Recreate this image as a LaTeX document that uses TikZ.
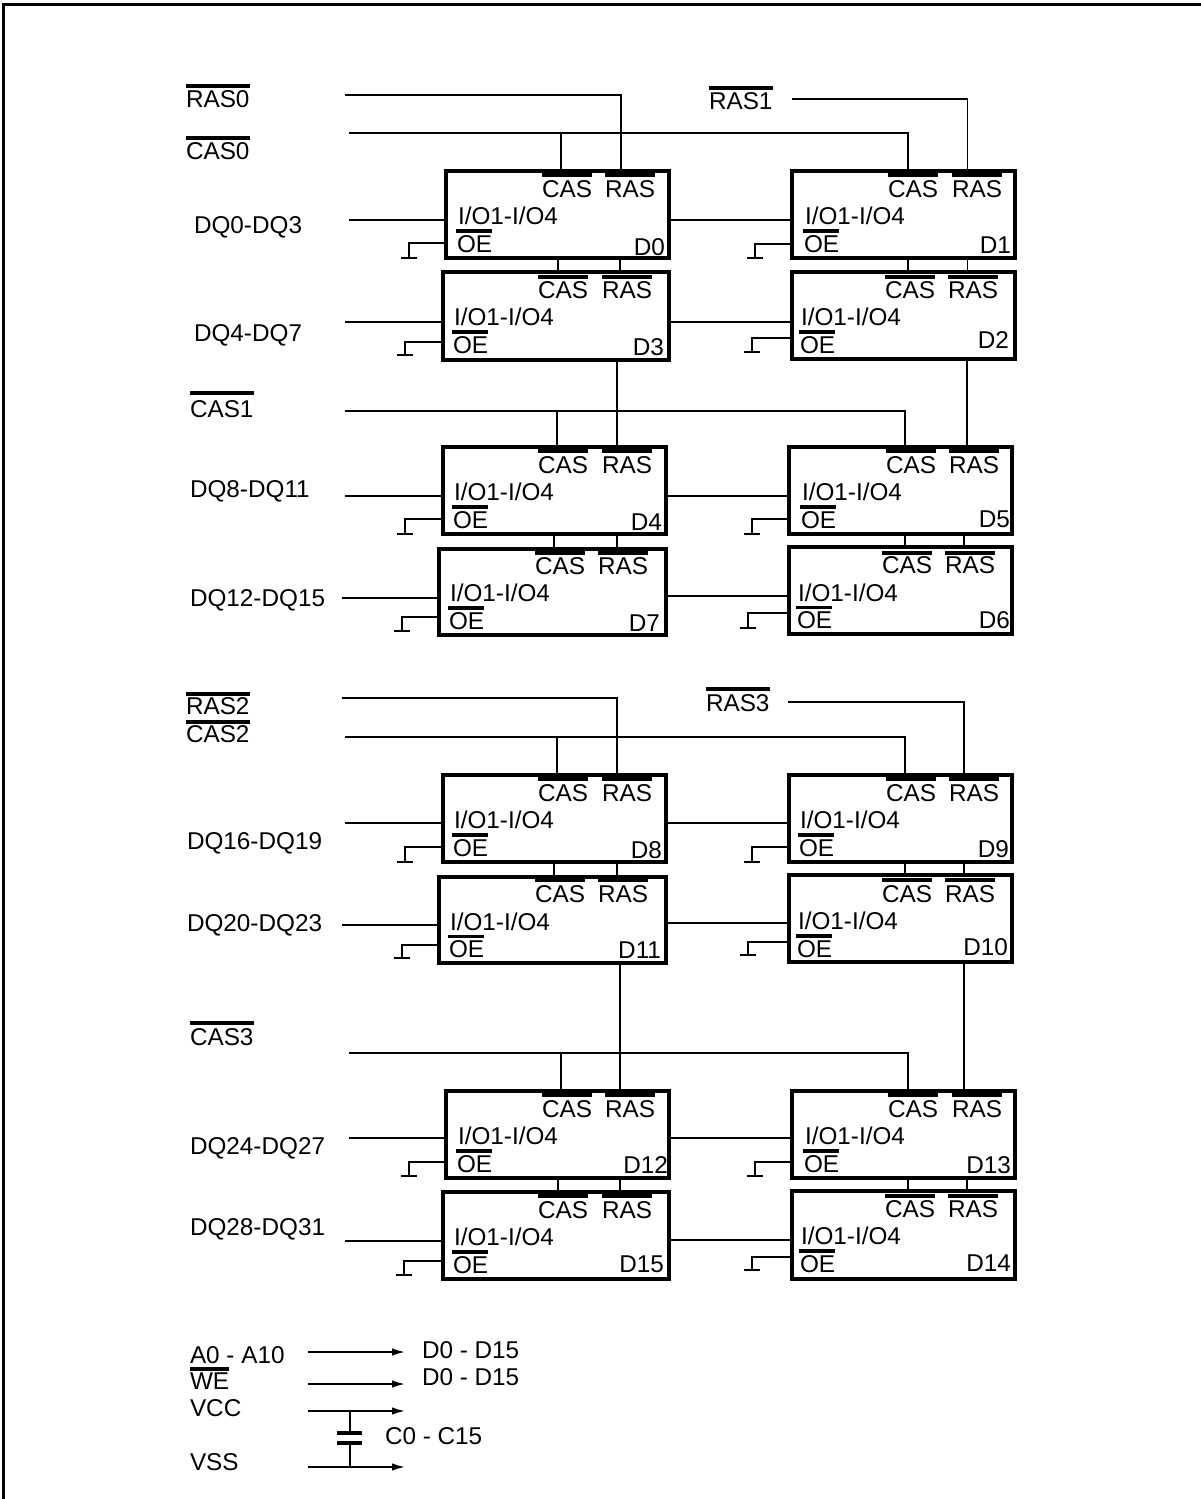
\documentclass[tikz,border=0pt]{standalone}
\usepackage{fontspec}
\setmainfont{Liberation Sans}
\usetikzlibrary{arrows.meta}
\tikzset{
  wire/.style={line width=1.8pt,line cap=butt},
  chipbox/.style={draw,line width=3.6pt,inner sep=0pt,outer sep=0pt,fill=none},
  lab/.style={anchor=base west,inner sep=0pt,outer sep=0pt,font=\fontsize{24.3}{24}\selectfont},
  labr/.style={anchor=base east,inner sep=0pt,outer sep=0pt,font=\fontsize{24.3}{24}\selectfont},
  obar/.style={line width=3.8pt},
  plate/.style={line width=4pt},
  sig/.style={wire,-{Latex[length=13pt,width=7.5pt]}},
}
% per-chip fine placement: id inset, id baseline, text shift, stub y, stub foot y, bar offset
\newcommand{\opt}[6]{\def\idx{#1}\def\idy{#2}\def\cdy{#3}\def\stuby{#4}\def\stubb{#5}\def\baroff{#6}}
% chip: name, x1,y1,x2,y2, CAS x, RAS x, I/O x, stub x
\newcommand{\chip}[9]{%
  \node[chipbox,minimum width={(#4-#2)*1pt},minimum height={(#5-#3)*1pt}] (#1) at ({(#2+#4)/2},{(#3+#5)/2}) {};
  \node[lab] (#1cas) at (#6,#3+26+\cdy) {CAS};
  \node[lab] (#1ras) at (#7,#3+26+\cdy) {RAS};
  \node[lab] (#1io) at (#8,#3+53.5+\cdy) {I/O1-I/O4};
  \node[lab] (#1oe) at (#8-1,#3+81+\cdy) {OE};
  \node[labr] (#1id) at (#4-\idx,#3+\idy) {#1};
  \draw[obar] (#6,#3+\baroff) -- ++(50,0);
  \draw[obar] (#7,#3+\baroff) -- ++(50,0);
  \draw[obar] (#8-2,#3+60+\cdy) -- ++(36,0);
  \coordinate (#1st) at (#9,\stuby);
  \coordinate (#1gnd) at (#9,\stubb);
  \draw[wire] (#1.west |- #1st) -- (#1st) -- (#1gnd);
  \draw[wire] ([xshift=-8pt]#1gnd) -- ([xshift=8pt]#1gnd);
}
\newcommand{\vlink}[3]{\coordinate (tmpx) at (#3,0); \draw[wire] (#1.south -| tmpx) -- (#2.north -| tmpx);}
\newcommand{\hlink}[3]{\coordinate (tmpy) at (0,#3); \draw[wire] (#1.east |- tmpy) -- (#2.west |- tmpy);}
\newcommand{\inlink}[4]{\coordinate (#1) at (#3,#4); \draw[wire] (#1) -- (#2.west |- #1);}
\newcommand{\ctl}[6]{% name, text, x, baseline, bar y, bar length
  \node[lab] (#1) at (#3,#4) {#2};
  \draw[obar] (#3,#5) -- ++(#6,0);
}
\begin{document}
\begin{tikzpicture}[x=1pt,y=-1pt]
\useasboundingbox (0,0) rectangle (1201,1499);
\fill[white] (0,0) rectangle (1201,1499);
% frame
\coordinate (fbl) at (3.5,1499); \coordinate (ftl) at (3.5,4.5); \coordinate (ftr) at (1201,4.5);
\draw[line width=3pt] (fbl) -- (ftl) -- (ftr);
% chips
\opt{4}{84}{0}{243}{258}{4}\chip{D0}{446}{171}{669}{258}{542}{605}{458}{409}
\opt{4}{82}{0}{244}{258}{4}\chip{D1}{792}{171}{1015}{258}{888}{952}{805}{755}
\opt{5}{83}{0}{342}{355}{5}\chip{D3}{443}{272}{669}{360}{538}{602}{454}{405}
\opt{6}{76}{0}{338}{352}{5}\chip{D2}{792}{272}{1015}{359}{885}{948}{801}{752}
\opt{4}{83}{0}{519}{534}{4}\chip{D4}{443}{447}{666}{534}{538}{602}{454}{405}
\opt{2}{80}{0}{519}{534}{4}\chip{D5}{789}{447}{1012}{534}{886}{949}{802}{752}
\opt{6}{82}{-1}{617}{631}{4}\chip{D7}{439}{549}{666}{635}{535}{598}{450}{402}
\opt{2}{81}{0.5}{613}{628}{6}\chip{D6}{789}{547}{1012}{634}{882}{945}{798}{748}
\opt{4}{83}{0}{847}{862}{4}\chip{D8}{443}{775}{666}{862}{538}{602}{454}{405}
\opt{3}{82}{0}{847}{862}{4}\chip{D9}{789}{775}{1012}{862}{886}{949}{800}{752}
\opt{5}{81}{-0.5}{945}{958}{3.5}\chip{D11}{439}{877}{666}{963}{535}{598}{450}{402}
\opt{4}{80}{1}{942}{955}{5}\chip{D10}{789}{875}{1012}{962}{882}{945}{798}{748}
\opt{1}{82}{0}{1162}{1176}{4}\chip{D12}{446}{1091}{669}{1178}{542}{605}{458}{409}
\opt{4}{82}{0}{1162}{1176}{4}\chip{D13}{792}{1091}{1015}{1178}{888}{952}{805}{755}
\opt{5}{80}{0}{1261}{1275}{4}\chip{D15}{443}{1192}{669}{1279}{538}{602}{454}{404}
\opt{4}{80}{0}{1257}{1270}{5}\chip{D14}{792}{1191}{1015}{1279}{885}{948}{801}{752}
% signal labels
\ctl{rasz}{RAS0}{186}{107}{86}{64}
\ctl{casz}{CAS0}{186}{159}{138}{64}
\ctl{rasa}{RAS1}{709}{109}{88}{64}
\ctl{casa}{CAS1}{190}{417}{393}{64}
\ctl{rasb}{RAS2}{186}{714}{694}{64}
\ctl{casb}{CAS2}{186}{742}{722}{64}
\ctl{rasc}{RAS3}{706}{711}{689}{64}
\ctl{casc}{CAS3}{190}{1045}{1023}{64}
\node[lab] (dq0) at (194,233) {DQ0-DQ3};
\node[lab] (dq4) at (194,341) {DQ4-DQ7};
\node[lab] (dq8) at (190,497) {DQ8-DQ11};
\node[lab] (dq12) at (190,606) {DQ12-DQ15};
\node[lab] (dq16) at (187,849) {DQ16-DQ19};
\node[lab] (dq20) at (187,931) {DQ20-DQ23};
\node[lab] (dq24) at (190,1154) {DQ24-DQ27};
\node[lab] (dq28) at (190,1235) {DQ28-DQ31};
% RAS / CAS buses
\coordinate (r0s) at (345,95); \coordinate (r0c) at (621,95); \draw[wire] (r0s) -- (r0c) -- (D0.north -| r0c);
\coordinate (c0s) at (349,133); \coordinate (c0c) at (908,133); \coordinate (c0b) at (561,133);
\draw[wire] (c0s) -- (c0c) -- (D1.north -| c0c); \draw[wire] (c0b) -- (D0.north -| c0b);
\coordinate (r1s) at (792,99); \coordinate (r1c) at (967.5,99); \draw[wire] (r1s) -- (r1c) -- (D1.north -| r1c);
\coordinate (c1s) at (345,411); \coordinate (c1c) at (905,411); \coordinate (c1b) at (557,411);
\draw[wire] (c1s) -- (c1c) -- (D5.north -| c1c); \draw[wire] (c1b) -- (D4.north -| c1b);
\coordinate (r2s) at (342,698); \coordinate (r2c) at (617,698); \draw[wire] (r2s) -- (r2c) -- (D8.north -| r2c);
\coordinate (c2s) at (345,737); \coordinate (c2c) at (905,737); \coordinate (c2b) at (557,737);
\draw[wire] (c2s) -- (c2c) -- (D9.north -| c2c); \draw[wire] (c2b) -- (D8.north -| c2b);
\coordinate (r3s) at (788,702); \coordinate (r3c) at (964,702); \draw[wire] (r3s) -- (r3c) -- (D9.north -| r3c);
\coordinate (c3s) at (349,1053); \coordinate (c3c) at (908,1053); \coordinate (c3b) at (561,1053);
\draw[wire] (c3s) -- (c3c) -- (D13.north -| c3c); \draw[wire] (c3b) -- (D12.north -| c3b);
% vertical chip links
\vlink{D0}{D3}{558}\vlink{D0}{D3}{620}
\vlink{D1}{D2}{908}\vlink{D1}{D2}{967.5}
\vlink{D3}{D4}{617}\vlink{D2}{D5}{967}
\vlink{D4}{D7}{554}\vlink{D4}{D7}{617}
\vlink{D5}{D6}{905}\vlink{D5}{D6}{964}
\vlink{D8}{D11}{554}\vlink{D8}{D11}{617}
\vlink{D9}{D10}{905}\vlink{D9}{D10}{964}
\vlink{D11}{D12}{620}\vlink{D10}{D13}{964}
\vlink{D12}{D15}{558}\vlink{D12}{D15}{620}
\vlink{D13}{D14}{908}\vlink{D13}{D14}{967}
% data links
\inlink{i0}{D0}{349}{220}\hlink{D0}{D1}{220}
\inlink{i4}{D3}{345}{322}\hlink{D3}{D2}{322}
\inlink{i8}{D4}{345}{496}\hlink{D4}{D5}{496}
\inlink{i12}{D7}{342}{598}\hlink{D7}{D6}{596}
\inlink{i16}{D8}{345}{823}\hlink{D8}{D9}{823}
\inlink{i20}{D11}{342}{925}\hlink{D11}{D10}{923}
\inlink{i24}{D12}{349}{1138}\hlink{D12}{D13}{1138}
\inlink{i28}{D15}{345}{1241}\hlink{D15}{D14}{1240}
% legend
\node[lab] (laddr) at (190,1363) {A0 - A10};
\ctl{lwe}{WE}{190}{1389}{1369}{39}
\node[lab] (lvcc) at (190,1416) {VCC};
\node[lab] (lvss) at (190,1470) {VSS};
\node[lab] (ta) at (422,1358) {D0 - D15};
\node[lab] (tw) at (422,1385) {D0 - D15};
\node[lab] (tc) at (385,1444) {C0 - C15};
\coordinate (as) at (308,1352); \coordinate (ae) at (405,1352); \draw[sig] (as) -- (ae);
\coordinate (ws) at (308,1384); \coordinate (we) at (405,1384); \draw[sig] (ws) -- (we);
\coordinate (vs) at (308,1411); \coordinate (ve) at (405,1411); \draw[sig] (vs) -- (ve);
\coordinate (ss) at (308,1467); \coordinate (se) at (405,1467); \draw[sig] (ss) -- (se);
\coordinate (ct) at (350,1411); \coordinate (cp) at (350,1433); \coordinate (cq) at (350,1443); \coordinate (cb) at (350,1467);
\draw[wire] (ct) -- (cp); \draw[wire] (cq) -- (cb);
\draw[plate] ([xshift=-13pt]cp) -- ([xshift=12pt]cp);
\draw[plate] ([xshift=-13pt]cq) -- ([xshift=12pt]cq);
\end{tikzpicture}
\end{document}
